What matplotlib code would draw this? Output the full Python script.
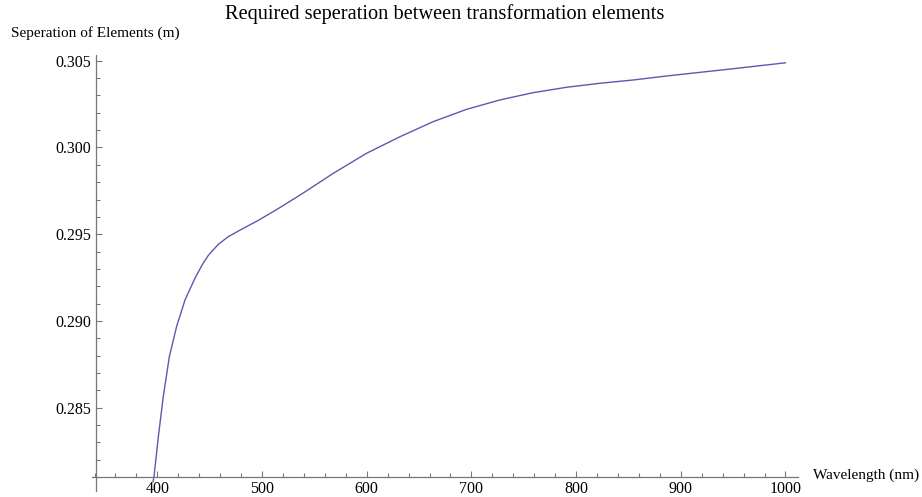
import matplotlib
matplotlib.use("Agg")
import matplotlib.pyplot as plt
from matplotlib.ticker import MultipleLocator

plt.rcParams['font.family'] = ['Liberation Serif', 'DejaVu Serif']

# values
wavelength = [395.9, 397.0, 401.0, 405.7, 411.5, 418.5, 426.5, 436.0, 443.0,
              448.7, 458.3, 467.8, 480.6, 496.5, 515.6, 536.9, 568.1, 600.0,
              631.8, 663.6, 695.5, 727.3, 759.1, 791.0, 822.8, 854.6, 886.5,
              918.3, 950.2, 1000.0]
separation = [0.28073, 0.28113, 0.28334, 0.28565, 0.28795, 0.28970, 0.29122,
              0.29247, 0.29325, 0.29378, 0.29442, 0.29486, 0.29529, 0.29580,
              0.29648, 0.29728, 0.29851, 0.29967, 0.30062, 0.30149, 0.30220,
              0.30274, 0.30316, 0.30347, 0.30370, 0.30389, 0.30412, 0.30433,
              0.30454, 0.30488]

W, H = 922, 497
fig = plt.figure(figsize=(W / 100, H / 100), dpi=100)
ax = fig.add_axes([92 / W, 1 - 491 / H, (798 - 92) / W, (491 - 55) / H])

ax.plot(wavelength, separation, color='#5a5ab0', lw=1.0)

ax.set_xlim(337.6, 1012)
ax.set_ylim(0.2802, 0.30533)

# Mathematica-like crossing axes
for s in ['top', 'right']:
    ax.spines[s].set_visible(False)
ax.spines['left'].set_position(('data', 341.3))
ax.spines['bottom'].set_position(('data', 0.2810))
for s in ['left', 'bottom']:
    ax.spines[s].set_color('#777777')
    ax.spines[s].set_linewidth(0.9)

ax.xaxis.set_minor_locator(MultipleLocator(20))
ax.yaxis.set_minor_locator(MultipleLocator(0.001))
ax.set_xticks([400, 500, 600, 700, 800, 900, 1000])
ax.set_yticks([0.285, 0.290, 0.295, 0.300, 0.305])
ax.set_yticklabels(['0.285', '0.290', '0.295', '0.300', '0.305'])

ax.tick_params(which='both', direction='in', color='#777777', width=0.8,
               labelsize=11.5, labelcolor='black')
ax.tick_params(which='major', length=4.3)
ax.tick_params(which='minor', length=2.6)
ax.tick_params(axis='y', pad=3.6)
ax.tick_params(axis='x', pad=3)

fig.text(445 / W, 1 - 14 / H, 'Required seperation between transformation elements',
         ha='center', va='center', fontsize=14.7)
fig.text(11 / W, 1 - 33 / H, 'Seperation of Elements (m)',
         ha='left', va='center', fontsize=11)
fig.text(813 / W, 1 - 475 / H, 'Wavelength (nm)',
         ha='left', va='center', fontsize=11)

fig.savefig('out.png', dpi=100)
